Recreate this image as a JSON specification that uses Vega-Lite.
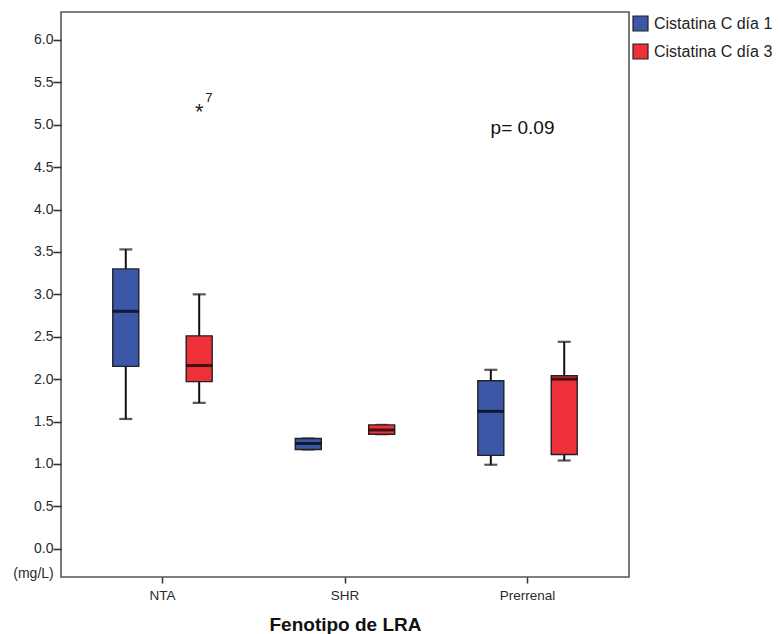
{
  "$schema": "https://vega.github.io/schema/vega-lite/v6.json",
  "width": 568,
  "height": 565,
  "autosize": "none",
  "padding": {"left": 61, "top": 12, "right": 151, "bottom": 57},
  "background": "white",
  "config": {
    "font": "Liberation Sans",
    "view": {"stroke": "#555555", "strokeWidth": 1.6},
    "axis": {"grid": false, "domain": false, "labelFont": "Liberation Sans", "titleFont": "Liberation Sans"}
  },
  "datasets": {
    "boxes": [
      {"fenotipo": "NTA", "dia": "Cistatina C día 1", "lower": 1.53, "q1": 2.15, "median": 2.80, "q3": 3.30, "upper": 3.53},
      {"fenotipo": "NTA", "dia": "Cistatina C día 3", "lower": 1.72, "q1": 1.97, "median": 2.16, "q3": 2.51, "upper": 3.00},
      {"fenotipo": "SHR", "dia": "Cistatina C día 1", "lower": 1.17, "q1": 1.17, "median": 1.24, "q3": 1.30, "upper": 1.30},
      {"fenotipo": "SHR", "dia": "Cistatina C día 3", "lower": 1.35, "q1": 1.35, "median": 1.40, "q3": 1.46, "upper": 1.46},
      {"fenotipo": "Prerrenal", "dia": "Cistatina C día 1", "lower": 0.99, "q1": 1.10, "median": 1.62, "q3": 1.98, "upper": 2.11},
      {"fenotipo": "Prerrenal", "dia": "Cistatina C día 3", "lower": 1.04, "q1": 1.11, "median": 2.00, "q3": 2.04, "upper": 2.44}
    ],
    "outliers": [
      {"fenotipo": "NTA", "dia": "Cistatina C día 3", "value": 5.19, "caso": "7"}
    ],
    "notes": [
      {"fenotipo": "Prerrenal", "value": 4.96, "label": "p= 0.09"}
    ]
  },
  "encoding": {
    "x": {
      "field": "fenotipo", "type": "nominal",
      "sort": ["NTA", "SHR", "Prerrenal"],
      "scale": {"paddingInner": 0, "paddingOuter": 0.056},
      "axis": {
        "labelAngle": 0, "tickSize": 6, "tickWidth": 1.5, "tickColor": "#333333",
        "labelFontSize": 13.5, "labelColor": "#2a2a2a", "labelPadding": 5,
        "title": "Fenotipo de LRA", "titleFontSize": 19, "titleFontWeight": "bold",
        "titleColor": "#111111", "titlePadding": 14
      }
    },
    "y": {
      "type": "quantitative",
      "scale": {"domain": [-0.334, 6.33], "nice": false, "zero": false},
      "axis": {
        "values": [0, 0.5, 1, 1.5, 2, 2.5, 3, 3.5, 4, 4.5, 5, 5.5, 6],
        "format": ".1f", "tickSize": 8, "tickWidth": 1.6, "tickColor": "#333333",
        "labelFontSize": 14, "labelColor": "#2a2a2a", "labelPadding": 0,
        "title": "(mg/L)", "titleAngle": 0, "titleX": -28, "titleY": 561,
        "titleAlign": "center", "titleBaseline": "middle",
        "titleFontSize": 14, "titleFontWeight": "normal", "titleColor": "#2a2a2a"
      }
    }
  },
  "layer": [
    {
      "data": {"name": "boxes"},
      "mark": {"type": "rule", "color": "#111111", "strokeWidth": 2},
      "encoding": {
        "xOffset": {"field": "dia", "type": "nominal", "scale": {"paddingInner": 0, "paddingOuter": 0.243}},
        "y": {"field": "lower", "type": "quantitative"},
        "y2": {"field": "upper"}
      }
    },
    {
      "data": {"name": "boxes"},
      "mark": {"type": "tick", "color": "#111111", "size": 13, "thickness": 2.2},
      "encoding": {
        "xOffset": {"field": "dia", "type": "nominal", "scale": {"paddingInner": 0, "paddingOuter": 0.243}},
        "y": {"field": "lower", "type": "quantitative"}
      }
    },
    {
      "data": {"name": "boxes"},
      "mark": {"type": "tick", "color": "#111111", "size": 13, "thickness": 2.2},
      "encoding": {
        "xOffset": {"field": "dia", "type": "nominal", "scale": {"paddingInner": 0, "paddingOuter": 0.243}},
        "y": {"field": "upper", "type": "quantitative"}
      }
    },
    {
      "data": {"name": "boxes"},
      "mark": {"type": "bar", "width": 26, "stroke": "#222222", "strokeWidth": 1.4, "opacity": 1},
      "encoding": {
        "xOffset": {"field": "dia", "type": "nominal", "scale": {"paddingInner": 0, "paddingOuter": 0.243}},
        "y": {"field": "q1", "type": "quantitative"},
        "y2": {"field": "q3"},
        "color": {
          "field": "dia", "type": "nominal",
          "scale": {"domain": ["Cistatina C día 1", "Cistatina C día 3"], "range": ["#3C56A8", "#EE3139"]},
          "legend": {
            "title": null, "orient": "none", "legendX": 571, "legendY": 3,
            "symbolType": "square", "symbolSize": 225, "symbolStrokeColor": "#222222",
            "symbolStrokeWidth": 1.2, "symbolOpacity": 1,
            "labelFontSize": 16, "labelColor": "#222222", "labelOffset": 5,
            "rowPadding": 7, "labelFont": "Liberation Sans"
          }
        }
      }
    },
    {
      "data": {"name": "boxes"},
      "mark": {"type": "tick", "color": "#000000", "size": 26, "thickness": 3},
      "encoding": {
        "xOffset": {"field": "dia", "type": "nominal", "scale": {"paddingInner": 0, "paddingOuter": 0.243}},
        "y": {"field": "median", "type": "quantitative"}
      }
    },
    {
      "data": {"name": "outliers"},
      "mark": {"type": "text", "text": "*", "fontSize": 22, "baseline": "middle", "dy": 3, "color": "#222222"},
      "encoding": {
        "xOffset": {"field": "dia", "type": "nominal", "scale": {"paddingInner": 0, "paddingOuter": 0.243}},
        "y": {"field": "value", "type": "quantitative"}
      }
    },
    {
      "data": {"name": "outliers"},
      "mark": {"type": "text", "fontSize": 13, "baseline": "middle", "align": "left", "dx": 6, "dy": -11, "color": "#222222"},
      "encoding": {
        "xOffset": {"field": "dia", "type": "nominal", "scale": {"paddingInner": 0, "paddingOuter": 0.243}},
        "y": {"field": "value", "type": "quantitative"},
        "text": {"field": "caso"}
      }
    },
    {
      "data": {"name": "notes"},
      "mark": {"type": "text", "fontSize": 19, "baseline": "middle", "align": "center", "dx": -5, "color": "#111111"},
      "encoding": {
        "y": {"field": "value", "type": "quantitative"},
        "text": {"field": "label"}
      }
    }
  ]
}
